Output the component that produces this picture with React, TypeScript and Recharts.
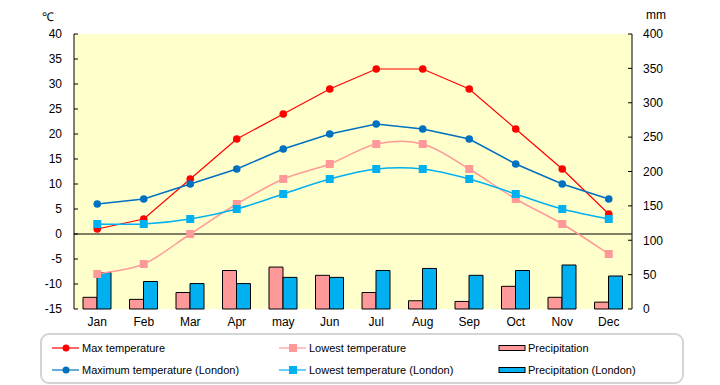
import { ComposedChart, Line, Bar, XAxis, YAxis, CartesianGrid, ReferenceLine } from 'recharts';

const months = ['Jan', 'Feb', 'Mar', 'Apr', 'may', 'Jun', 'Jul', 'Aug', 'Sep', 'Oct', 'Nov', 'Dec'];
const maxTemp = [1, 3, 11, 19, 24, 29, 33, 33, 29, 21, 13, 4];
const lowTemp = [-8, -6, 0, 6, 11, 14, 18, 18, 13, 7, 2, -4];
const maxTempLondon = [6, 7, 10, 13, 17, 20, 22, 21, 19, 14, 10, 7];
const lowTempLondon = [2, 2, 3, 5, 8, 11, 13, 13, 11, 8, 5, 3];
const precip = [17, 14, 24, 56, 61, 49, 24, 12, 11, 33, 17, 10];
const precipLondon = [53, 40, 37, 37, 46, 46, 56, 59, 49, 56, 64, 48];
const tempTicks = [-15, -10, -5, 0, 5, 10, 15, 20, 25, 30, 35, 40];
const mmTicks = [0, 50, 100, 150, 200, 250, 300, 350, 400];

const RED = '#ff0000';
const PINK = '#ff9999';
const NAVY = '#0070c0';
const CYAN = '#00b0f0';
const FONT = '"Liberation Sans", Arial, sans-serif';

const data = months.map((m, i) => ({
  month: m,
  maxTemp: maxTemp[i],
  lowTemp: lowTemp[i],
  maxTempLondon: maxTempLondon[i],
  lowTempLondon: lowTempLondon[i],
  precip: precip[i],
  precipLondon: precipLondon[i],
}));

// smoothed line like a spreadsheet chart (catmull-rom through every point)
function smoothCurve(context: any) {
  let pts: number[][] = [];
  return {
    areaStart() {},
    areaEnd() {},
    lineStart() {
      pts = [];
    },
    point(x: number, y: number) {
      pts.push([+x, +y]);
    },
    lineEnd() {
      if (!pts.length) return;
      context.moveTo(pts[0][0], pts[0][1]);
      for (let i = 0; i < pts.length - 1; i++) {
        const p0 = pts[i - 1] || pts[i];
        const p1 = pts[i];
        const p2 = pts[i + 1];
        const p3 = pts[i + 2] || p2;
        context.bezierCurveTo(
          p1[0] + (p2[0] - p0[0]) / 6,
          p1[1] + (p2[1] - p0[1]) / 6,
          p2[0] - (p3[0] - p1[0]) / 6,
          p2[1] - (p3[1] - p1[1]) / 6,
          p2[0],
          p2[1]
        );
      }
    },
  };
}

const squareDot = (color: string) => (props: any) => {
  const { cx, cy, index } = props;
  if (cx == null || cy == null) return <g key={index} />;
  return <rect key={index} x={cx - 4} y={cy - 4} width={8} height={8} fill={color} />;
};

const tick = { fill: '#000', fontSize: 12, fontFamily: FONT };

function LegendItem({ x, y, icon, label }: { x: number; y: number; icon: React.ReactNode; label: string }) {
  return (
    <div style={{ position: 'absolute', left: x, top: y - 8, display: 'flex', alignItems: 'center', height: 16 }}>
      <svg width={28} height={12} style={{ marginRight: 2 }}>
        {icon}
      </svg>
      <span style={{ fontSize: 11, fontFamily: FONT, whiteSpace: 'nowrap' }}>{label}</span>
    </div>
  );
}

const lineIcon = (color: string, square: boolean) => (
  <>
    <line x1={0} y1={6} x2={27} y2={6} stroke={color} strokeWidth={1.2} />
    {square ? <rect x={10} y={2} width={8} height={8} fill={color} /> : <circle cx={14} cy={6} r={3.5} fill={color} />}
  </>
);

const barIcon = (color: string) => <rect x={1} y={3.5} width={26} height={5} fill={color} stroke="#000" strokeWidth={1} />;

export default function App() {
  return (
    <div style={{ position: 'absolute', left: 0, top: 0, width: 720, height: 385, background: '#fff' }}>
      <ComposedChart
        width={720}
        height={385}
        data={data}
        margin={{ top: 34, right: 48, left: 30, bottom: 46 }}
        barGap={0}
      >
        <CartesianGrid fill="#ffffcc" horizontal={false} vertical={false} />
        <XAxis dataKey="month" axisLine={false} tickLine={false} tick={tick} interval={0} />
        <YAxis
          yAxisId="left"
          domain={[-15, 40]}
          ticks={tempTicks}
          width={44}
          tick={tick}
          tickSize={-4}
          tickMargin={16}
          axisLine={{ stroke: '#000' }}
          tickLine={{ stroke: '#000' }}
        />
        <YAxis
          yAxisId="right"
          orientation="right"
          domain={[0, 400]}
          ticks={mmTicks}
          width={40}
          tick={{ ...tick, textAnchor: 'start' }}
          tickSize={-4}
          tickMargin={15}
          axisLine={{ stroke: '#000' }}
          tickLine={{ stroke: '#000' }}
        />
        <ReferenceLine yAxisId="left" y={0} stroke="#000" strokeWidth={1.2} />
        <Bar yAxisId="right" dataKey="precip" fill={PINK} stroke="#000" strokeWidth={1} barSize={14} isAnimationActive={false} />
        <Bar yAxisId="right" dataKey="precipLondon" fill={CYAN} stroke="#000" strokeWidth={1} barSize={14} isAnimationActive={false} />
        <Line
          yAxisId="left"
          dataKey="maxTemp"
          type="linear"
          stroke={RED}
          strokeWidth={1.2}
          dot={{ r: 3.8, fill: RED, stroke: RED, strokeWidth: 0 }}
          isAnimationActive={false}
        />
        <Line
          yAxisId="left"
          dataKey="lowTemp"
          type={smoothCurve as any}
          stroke={PINK}
          strokeWidth={1.5}
          dot={squareDot(PINK)}
          isAnimationActive={false}
        />
        <Line
          yAxisId="left"
          dataKey="maxTempLondon"
          type="linear"
          stroke={NAVY}
          strokeWidth={1.5}
          dot={{ r: 3.8, fill: NAVY, stroke: NAVY, strokeWidth: 0 }}
          isAnimationActive={false}
        />
        <Line
          yAxisId="left"
          dataKey="lowTempLondon"
          type={smoothCurve as any}
          stroke={CYAN}
          strokeWidth={1.5}
          dot={squareDot(CYAN)}
          isAnimationActive={false}
        />
      </ComposedChart>

      <div style={{ position: 'absolute', left: 42, top: 8, fontSize: 12, fontFamily: FONT }}>℃</div>
      <div style={{ position: 'absolute', left: 646, top: 8, fontSize: 12, fontFamily: FONT }}>mm</div>

      <div
        style={{
          position: 'absolute',
          left: 40,
          top: 333,
          width: 640,
          height: 47,
          border: '2px solid #d4d4d4',
          borderRadius: 9,
        }}
      />
      <LegendItem x={52} y={348} icon={lineIcon(RED, false)} label="Max temperature" />
      <LegendItem x={52} y={370} icon={lineIcon(NAVY, false)} label="Maximum temperature (London)" />
      <LegendItem x={279} y={348} icon={lineIcon(PINK, true)} label="Lowest temperature" />
      <LegendItem x={279} y={370} icon={lineIcon(CYAN, true)} label="Lowest temperature (London)" />
      <LegendItem x={498} y={348} icon={barIcon(PINK)} label="Precipitation" />
      <LegendItem x={498} y={370} icon={barIcon(CYAN)} label="Precipitation (London)" />
    </div>
  );
}
